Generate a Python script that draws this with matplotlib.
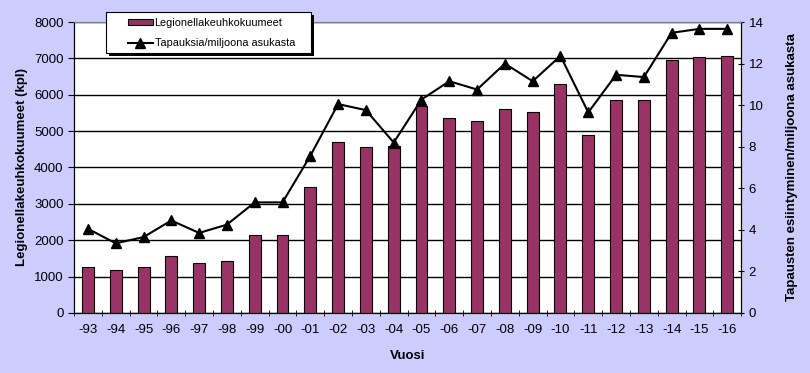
import matplotlib
matplotlib.use("Agg")
import matplotlib.pyplot as plt
from matplotlib.patches import Rectangle
import numpy as np

years = ["-93", "-94", "-95", "-96", "-97", "-98", "-99", "-00", "-01", "-02",
         "-03", "-04", "-05", "-06", "-07", "-08", "-09", "-10", "-11", "-12",
         "-13", "-14", "-15", "-16"]
cases = [1250, 1170, 1250, 1560, 1360, 1440, 2130, 2150, 3460, 4700,
         4560, 4600, 5700, 5360, 5270, 5600, 5520, 6290, 4890, 5850,
         5850, 6950, 7030, 7060]
per_million = [4.05, 3.35, 3.65, 4.45, 3.85, 4.25, 5.32, 5.32, 7.56, 10.05,
               9.76, 8.2, 10.27, 11.15, 10.75, 12.0, 11.15, 12.37, 9.65, 11.46,
               11.35, 13.48, 13.67, 13.67]

plt.rcParams["font.family"] = ["Liberation Sans", "DejaVu Sans"]

W, H = 810, 373
fig = plt.figure(figsize=(W / 100, H / 100), dpi=100, facecolor="#ccccff")
ax = fig.add_axes([0.0914, 0.161, 0.8236, 0.78])
ax.set_facecolor("white")
x = np.arange(len(years))

bars = ax.bar(x, cases, width=0.43, color="#993366", edgecolor="black",
              linewidth=0.8, zorder=3)
ax.set_xlim(-0.5, len(years) - 0.5)
ax.set_ylim(0, 8000)
ax.set_yticks(np.arange(0, 8001, 1000))
ax.yaxis.grid(True, color="black", linewidth=1.0, zorder=0)
ax.set_axisbelow(True)
ax.set_xticks(x)
ax.set_xticklabels(years)
ax.set_xticks(np.arange(-0.5, len(years), 1), minor=True)
ax.tick_params(axis="x", which="major", length=0, labelsize=9.5, pad=8)
ax.tick_params(axis="x", which="minor", length=4, direction="inout")
ax.tick_params(axis="y", length=4, labelsize=9.5, direction="out")
ax.spines["top"].set_color("#808080")
ax.set_ylabel("Legionellakeuhkokuumeet (kpl)", fontsize=9.5, fontweight="bold",
              labelpad=4)
ax.set_xlabel("Vuosi", fontsize=9.5, fontweight="bold", labelpad=10)

ax2 = ax.twinx()
line, = ax2.plot(x, per_million, color="black", linewidth=1.5, marker="^",
                 markersize=6.5, zorder=4)
ax2.set_ylim(0, 14)
ax2.set_yticks(np.arange(0, 15, 2))
ax2.tick_params(axis="y", length=4, labelsize=9.5, direction="inout")
ax2.spines["top"].set_color("#808080")
ax2.set_ylabel("Tapausten esiintyminen/miljoona asukasta", fontsize=9.5,
               fontweight="bold", labelpad=16)

# legend box with a hard drop shadow, drawn by hand
lx, ly, lw, lh = 106, 12, 205, 41
fig.patches.append(Rectangle(((lx + 3) / W, 1 - (ly + lh + 3) / H), lw / W, lh / H,
                             transform=fig.transFigure, facecolor="black",
                             edgecolor="none", zorder=9))
fig.patches.append(Rectangle((lx / W, 1 - (ly + lh) / H), lw / W, lh / H,
                             transform=fig.transFigure, facecolor="white",
                             edgecolor="black", linewidth=0.8, zorder=9))
leg = fig.legend([bars, line], ["Legionellakeuhkokuumeet",
                                "Tapauksia/miljoona asukasta"],
                 loc="upper left", bbox_to_anchor=(128 / W, 1 - 18 / H),
                 fontsize=7.8, frameon=False, borderpad=0, borderaxespad=0,
                 handlelength=2.3, handleheight=0.5, handletextpad=0.15,
                 labelspacing=0.95)
leg.set_zorder(10)

fig.savefig("out.png", dpi=100, facecolor=fig.get_facecolor())
